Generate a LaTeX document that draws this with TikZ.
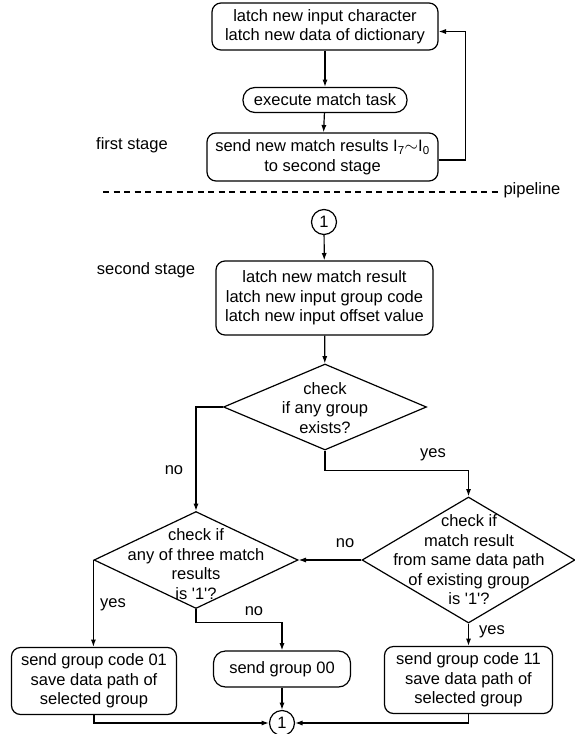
\documentclass[tikz,border=0pt]{standalone}
\usepackage{fontspec}
\setmainfont{Liberation Sans}
\usetikzlibrary{arrows.meta,positioning,shapes.geometric}
\tikzset{
  >={Latex[length=2.6mm,width=1.8mm]},
  every node/.style={font=\fontsize{16.5}{19.5}\selectfont},
  blk/.style={draw,rounded corners=9pt,align=center,inner sep=0pt,line width=1.2pt},
  pill/.style={blk,rounded corners=12pt},
  dia/.style={draw,diamond,inner sep=0pt,line width=1.2pt},
  txt/.style={align=center,inner sep=0pt},
  conn/.style={draw,circle,minimum size=25pt,inner sep=0pt,line width=1.2pt},
  flow/.style={->,line width=1.2pt},
  sep/.style={line width=1.2pt,dash pattern=on 6pt off 4.5pt},
}
\newcommand{\one}{\textquotesingle 1\textquotesingle ?}

\begin{document}
\begin{tikzpicture}[x=1pt,y=-1pt]
  \useasboundingbox (0,0) rectangle (575,734);

  % first stage
  \node[blk,minimum width=226,minimum height=47] (latch) at (325,26.5)
       {latch new input character\\latch new data of dictionary};
  \node[pill,minimum width=164,minimum height=25] (exec) at (325,100) {execute match task};
  \node[blk,minimum width=231,minimum height=48] (send) at (322.5,157)
       {send new match results I\textsubscript{7}$\sim$I\textsubscript{0}\\to second stage};
  \node (st1) at (132,145) {first stage};

  \node[anchor=west] (pipe) at (500,190) {pipeline};
  \coordinate (dl) at (103,192);
  \draw[sep] (dl) -- (dl -| pipe.west);

  % second stage
  \node[conn] (c1) at (324,222) {1};
  \node (st2) at (146,270) {second stage};
  \node[blk,minimum width=217,minimum height=74] (res) at (324.5,298)
       {latch new match result\\latch new input group code\\latch new input offset value};

  \node[dia,minimum width=203,minimum height=86] (d1) at (325,407) {};
  \node[txt] (d1t) at (325,408) {check\\if any group\\exists?};
  \node[dia,minimum width=204,minimum height=97] (d2) at (196,560) {};
  \node[txt] (d2t) at (196,564) {check if\\any of three match\\results\\is \one};
  \node[dia,minimum width=213,minimum height=126] (d3) at (468.5,560) {};
  \node[txt] (d3t) at (469,560) {check if\\match result\\from same data path\\of existing group\\is \one};

  \node[blk,minimum width=165,minimum height=67] (g01) at (94,681)
       {send group code 01\\save data path of\\selected group};
  \node[pill,minimum width=137,minimum height=36] (g00) at (282,669) {send group 00};
  \node[blk,minimum width=168,minimum height=67] (g11) at (468.5,680)
       {send group code 11\\save data path of\\selected group};
  \node[conn] (c2) at (282,723) {1};

  \node (no1) at (174,470) {no};
  \node (yes1) at (433,455) {yes};
  \node (no2) at (345,543) {no};
  \node (yes2) at (113,605) {yes};
  \node (no3) at (254,611) {no};
  \node (yes3) at (492,632) {yes};

  \draw[flow] (latch) -- (exec);
  \draw[flow] (exec) -- (send);
  \draw[flow] ([yshift=-3pt]send.east) -- ++(27,0) |- ([yshift=-5pt]latch.east);
  \draw[flow] (c1) -- (res);
  \draw[flow] (res) -- (d1);
  \draw[flow] (d1.west) -| (d2.north);
  \draw[flow] (d1.south) -- ++(0,20) -| (d3.north);
  \draw[flow] (d3.west) -- (d2.east);
  \draw[flow] (d2.west) -- (d2.west |- g01.north);
  \draw[flow] (d2.south) -- ++(0,13) -| (g00.north);
  \draw[flow] (d3.south) -- (g11.north);
  \draw[flow] (g01.south) |- (c2.west);
  \draw[flow] (g00) -- (c2);
  \draw[flow] (g11.south) |- (c2.east);
\end{tikzpicture}
\end{document}
